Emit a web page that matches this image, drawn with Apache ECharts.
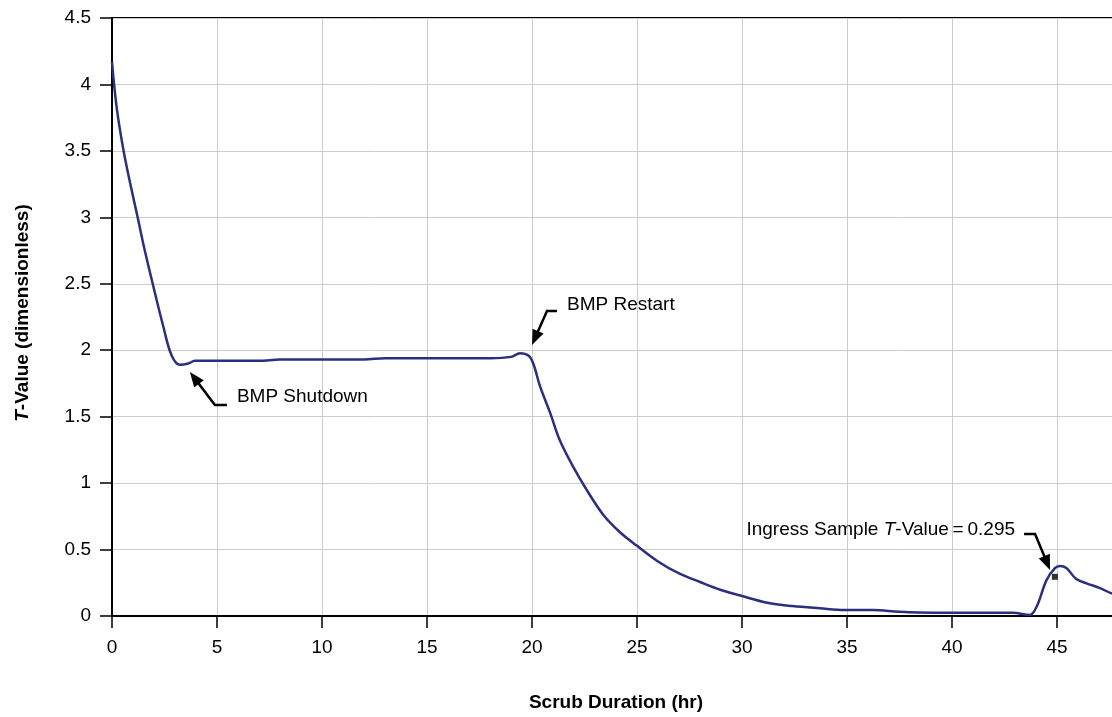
<!DOCTYPE html>
<html>
<head>
<meta charset="utf-8">
<script src="https://cdn.jsdelivr.net/npm/echarts@6/dist/echarts.min.js"></script>
<style>
html,body{margin:0;padding:0;background:#fff;overflow:hidden;}
#main{width:1162px;height:717px;}
</style>
</head>
<body>
<div id="main"></div>
<script>
// scrub duration (hr)
var hours = [0,0.22,0.54,0.86,1.25,1.49,1.97,2.44,2.84,3.24,3.63,3.95,5,7,8,10,12,13,15,18,19,19.43,19.83,20.06,20.38,20.86,21.33,21.97,22.6,23.4,24.19,24.98,26,27,28,29,30,31.2,32.4,33.7,34.9,36.25,37.5,39.1,40.4,42.9,43.7,44.03,44.5,44.9,45.14,45.46,45.9,46.4,47.05,47.6,48];
// T-value (dimensionless)
var tValue = [4.17,3.83,3.51,3.26,2.98,2.80,2.48,2.18,1.96,1.89,1.90,1.92,1.92,1.92,1.93,1.93,1.93,1.94,1.94,1.94,1.95,1.977,1.96,1.90,1.73,1.53,1.32,1.12,0.95,0.76,0.63,0.53,0.41,0.32,0.256,0.196,0.15,0.10,0.075,0.058,0.045,0.045,0.032,0.025,0.025,0.025,0.007,0.07,0.27,0.36,0.376,0.36,0.28,0.246,0.21,0.17,0.16];
// ingress sample
var sampleHour = [44.9];
var sampleT = [0.295];

var font = 'Liberation Sans, Arial, sans-serif';

var lineData = [];
for (var i = 0; i < hours.length; i++) lineData.push([hours[i], tValue[i]]);
var sampleData = [];
for (var j = 0; j < sampleHour.length; j++) sampleData.push([sampleHour[j], sampleT[j]]);

var mychart = echarts.init(document.getElementById('main'));

var option = {
    animation: false,
    backgroundColor: '#fff',
    grid: {left: 112, top: 18, right: 0, bottom: 101, outerBoundsMode: 'none', containLabel: false,
        show: true, borderColor: '#000', borderWidth: 2},
    xAxis: {
        type: 'value', min: 0, max: 50, interval: 5,
        axisLine: {lineStyle: {color: '#000', width: 2}},
        axisTick: {length: 12, lineStyle: {color: '#000', width: 1.5}},
        axisLabel: {color: '#000', fontSize: 19, fontFamily: font, margin: 22},
        splitLine: {lineStyle: {color: '#ccc', width: 1}}
    },
    yAxis: {
        type: 'value', min: 0, max: 4.5, interval: 0.5,
        axisLine: {show: true, lineStyle: {color: '#000', width: 2}},
        axisTick: {show: true, length: 12, lineStyle: {color: '#000', width: 1.5}},
        axisLabel: {color: '#000', fontSize: 19, fontFamily: font, margin: 21},
        splitLine: {lineStyle: {color: '#ccc', width: 1}}
    },
    series: [
        {
            type: 'line', data: lineData, showSymbol: false, smooth: 0.35,
            lineStyle: {color: '#2c2e7e', width: 2.5}, z: 3
        },
        {
            type: 'scatter', data: sampleData, symbol: 'rect', symbolSize: 6,
            itemStyle: {color: '#000'}, z: 4
        }
    ]
};
mychart.setOption(option);

// annotations: arrow tip in data coords, other parts as pixel offsets from the tip
var notes = [
    {at: [3.71, 1.836], elbow: [25, 33], end: [37, 33], text: [47, 25], align: 'left', label: '{a|BMP Shutdown}'},
    {at: [20.0, 2.04], elbow: [15, -34], end: [25, -34], text: [35, -40], align: 'left', label: '{a|BMP Restart}'},
    {at: [44.67, 0.346], elbow: [-15, -36], end: [-26, -36], text: [-35, -40], align: 'right', label: '{a|Ingress Sample }{i|T}{a|-Value\u2009=\u20090.295}'}
];
var rich = {
    a: {fontSize: 19, fontFamily: font, fill: '#000'},
    i: {fontSize: 19, fontFamily: font, fontStyle: 'italic', fill: '#000'}
};
var graphics = [];
notes.forEach(function (n) {
    var p = mychart.convertToPixel({gridIndex: 0}, n.at);
    var e = [p[0] + n.elbow[0], p[1] + n.elbow[1]];
    var f = [p[0] + n.end[0], p[1] + n.end[1]];
    var dx = p[0] - e[0], dy = p[1] - e[1];
    var len = Math.sqrt(dx * dx + dy * dy);
    var ux = dx / len, uy = dy / len;
    var hl = 15, hw = 6;
    var bx = p[0] - ux * hl, by = p[1] - uy * hl;
    graphics.push({
        type: 'polyline', z: 10,
        shape: {points: [f, e, [bx + ux * 2, by + uy * 2]]},
        style: {stroke: '#000', lineWidth: 2.5, fill: null}
    });
    graphics.push({
        type: 'polygon', z: 10,
        shape: {points: [p, [bx - uy * hw, by + ux * hw], [bx + uy * hw, by - ux * hw]]},
        style: {fill: '#000'}
    });
    graphics.push({
        type: 'text', z: 10, x: p[0] + n.text[0], y: p[1] + n.text[1],
        style: {text: n.label, rich: rich, align: n.align, verticalAlign: 'middle'}
    });
});
// axis titles
graphics.push({
    type: 'text', x: 616, y: 703,
    style: {text: 'Scrub Duration (hr)', fontSize: 19, fontWeight: 'bold', fontFamily: font, fill: '#000', align: 'center', verticalAlign: 'middle'}
});
graphics.push({
    type: 'text', x: 23, y: 313, rotation: Math.PI / 2,
    style: {
        text: '{bi|T}{b|-Value (dimensionless)}', align: 'center', verticalAlign: 'middle',
        rich: {
            b: {fontSize: 19, fontWeight: 'bold', fontFamily: font, fill: '#000'},
            bi: {fontSize: 19, fontWeight: 'bold', fontStyle: 'italic', fontFamily: font, fill: '#000'}
        }
    }
});
mychart.setOption({graphic: graphics});
</script>
</body>
</html>
